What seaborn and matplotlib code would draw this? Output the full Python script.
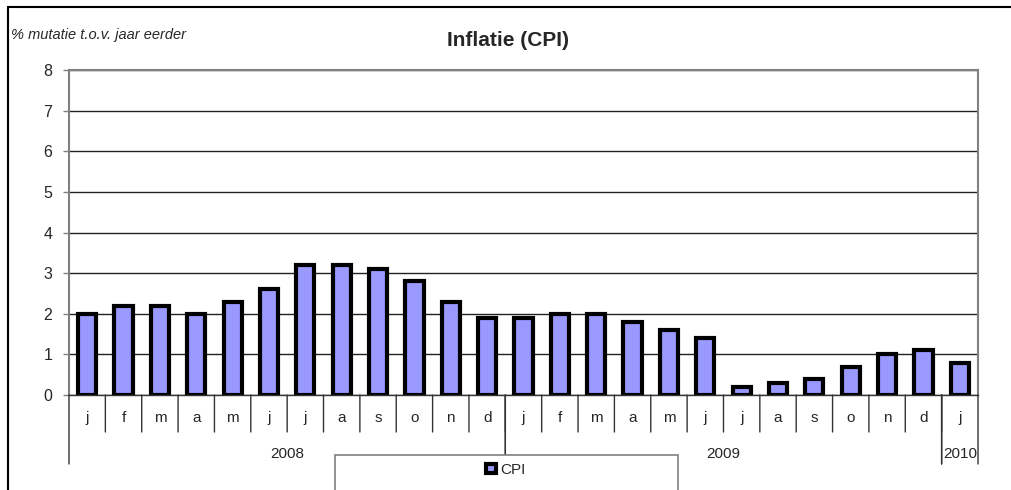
"""Inflatie (CPI) bar chart, monthly 2008-2010."""

import matplotlib

matplotlib.use("Agg")
import matplotlib.pyplot as plt
import matplotlib.transforms as mtransforms
from matplotlib.lines import Line2D
from matplotlib.patches import Rectangle
import pandas as pd
import seaborn as sns

months = ["j", "f", "m", "a", "m", "j", "j", "a", "s", "o", "n", "d",
          "j", "f", "m", "a", "m", "j", "j", "a", "s", "o", "n", "d",
          "j"]
years = ["2008", "2009", "2010"]
months_per_year = [12, 12, 1]
cpi = [2.0, 2.2, 2.2, 2.0, 2.3, 2.6, 3.2, 3.2, 3.1, 2.8, 2.3, 1.9,
       1.9, 2.0, 2.0, 1.8, 1.6, 1.4, 0.2, 0.3, 0.4, 0.7, 1.0, 1.1,
       0.8]

periods = []
for year, n in zip(years, months_per_year):
    for m in range(n):
        periods.append(f"{year}-{m + 1:02d}")
df = pd.DataFrame({"period": periods, "month": months, "CPI": cpi})

sns.set_theme(style="white")
plt.rcParams["font.family"] = ["Liberation Sans", "DejaVu Sans"]

W, H = 1012, 490
fig = plt.figure(figsize=(W / 100, H / 100), dpi=100)
ax = fig.add_axes([69 / W, (H - 395) / H, (978 - 69) / W, (395 - 70) / H])

sns.barplot(data=df, x="period", y="CPI", color="#9999FF", edgecolor="black",
            linewidth=3, width=0.5, saturation=1, ax=ax, label="CPI")
handles, labels = ax.get_legend_handles_labels()
if ax.get_legend() is not None:
    ax.get_legend().remove()

ax.set_xlim(-0.5, len(df) - 0.5)
ax.set_ylim(0, 8)
ax.set_yticks(range(0, 9))
ax.tick_params(axis="y", labelsize=11.5, length=4, width=1, color="#808080",
               left=True, pad=8)
ax.tick_params(axis="x", bottom=False, labelbottom=False)
ax.set_xlabel("")
ax.set_ylabel("")
ax.yaxis.grid(True, color="#222222", linewidth=1)
ax.set_axisbelow(True)
for side in ["left", "top", "right"]:
    ax.spines[side].set_color("#808080")
    ax.spines[side].set_linewidth(1.5)
ax.spines["bottom"].set_color("#333333")
ax.spines["bottom"].set_linewidth(1)

# category axis: month letters, year labels and separators below the baseline
trans = mtransforms.blended_transform_factory(ax.transData, ax.transAxes)


def below(p):
    return mtransforms.offset_copy(trans, fig=fig, x=0, y=-p, units="dots")


def separator(x, depth):
    ax.annotate("", xy=(x, 0), xycoords=trans, xytext=(x, 0),
                textcoords=below(depth),
                arrowprops=dict(arrowstyle="-", color="#333333", lw=1,
                                shrinkA=0, shrinkB=0))


for i, m in enumerate(df["month"]):
    ax.text(i, 0, m, transform=below(23), ha="center", va="center", fontsize=11)
    if i > 0:
        separator(i - 0.5, 37)

start = 0
for year, n in zip(years, months_per_year):
    ax.text(start + (n - 1) / 2, 0, year, transform=below(59), ha="center",
            va="center", fontsize=11)
    separator(start - 0.5, 69)
    separator(start + n - 0.5, 69)
    start += n

# titles
fig.text(508 / W, 1 - 40 / H, "Inflatie (CPI)", ha="center", va="center",
         fontsize=15, fontweight="bold")
fig.text(11 / W, 1 - 35 / H, "% mutatie t.o.v. jaar eerder", ha="left",
         va="center", fontsize=10.5, style="italic")

# legend box
fig.add_artist(Rectangle((335 / W, -0.05), (678 - 335) / W, (H - 455) / H + 0.05,
                         transform=fig.transFigure, facecolor="white",
                         edgecolor="#808080", linewidth=1.2))
fig.legend(handles[:1], labels[:1], loc="center", bbox_to_anchor=(506 / W, 1 - 470 / H),
           frameon=False, fontsize=11, handlelength=0.6, handleheight=0.6,
           handletextpad=0.3)

# outer chart border (left and top only visible)
fig.add_artist(Line2D([8 / W, 8 / W], [0, 1 - 7 / H], transform=fig.transFigure,
                      color="black", linewidth=1.5))
fig.add_artist(Line2D([8 / W, 1], [1 - 7 / H, 1 - 7 / H], transform=fig.transFigure,
                      color="black", linewidth=1.5))

fig.savefig("out.png", dpi=100)
